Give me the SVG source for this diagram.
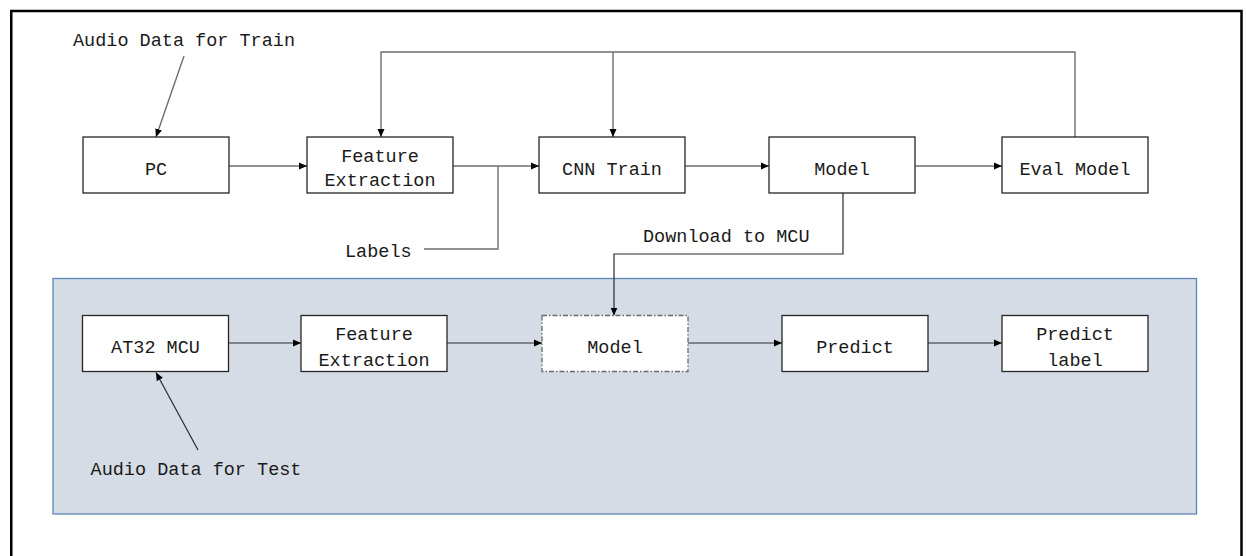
<svg xmlns="http://www.w3.org/2000/svg" width="1246" height="556" viewBox="0 0 1246 556">
<defs>
<marker id="arr" markerUnits="userSpaceOnUse" markerWidth="9" markerHeight="8" refX="8" refY="4" orient="auto">
<path d="M0,0.5 L8,4 L0,7.5 z" fill="#000"/>
</marker>
<style>
.t{font-family:"Liberation Mono","DejaVu Sans Mono",monospace;font-size:18.5px;fill:#1a1a1a}
.c{text-anchor:middle}
.box{fill:#fff;stroke:#262626;stroke-width:1.3}
.dash{fill:#fff;stroke:#6a6a6a;stroke-width:1.3;stroke-dasharray:5 2 1.5 2}
.ln{fill:none;stroke:#6e6e6e;stroke-width:1.4}
.lnd{fill:none;stroke:#2a2a2a;stroke-width:1.2}
.a{marker-end:url(#arr)}
</style>
</defs>
<rect x="0" y="0" width="1246" height="556" fill="#fff"/>
<rect x="11.25" y="11" width="1230.25" height="600" fill="none" stroke="#000" stroke-width="2.5"/>
<rect id="mcu-panel" x="53" y="278.5" width="1143.5" height="235.5" fill="#d6dce5" stroke="#5a86b8" stroke-width="1.3"/>

<g id="connectors">
<line class="ln a" x1="184" y1="56" x2="156" y2="137"/>
<line class="ln a" x1="229" y1="166" x2="307" y2="166"/>
<line class="ln a" x1="453" y1="166" x2="539" y2="166"/>
<polyline class="ln" points="424,249 498,249 498,166"/>
<line class="ln a" x1="685" y1="166" x2="769" y2="166"/>
<line class="ln a" x1="915" y1="166" x2="1002" y2="166"/>
<polyline class="ln a" points="1075,137 1075,52 381,52 381,137"/>
<line class="ln a" x1="613" y1="52" x2="613" y2="137"/>
<polyline class="lnd a" points="843,193 843,254 614,254 614,315.5"/>
<line class="lnd a" x1="228" y1="343" x2="301" y2="343"/>
<line class="lnd a" x1="447" y1="343" x2="542" y2="343"/>
<line class="lnd a" x1="688" y1="343" x2="782" y2="343"/>
<line class="lnd a" x1="928" y1="343" x2="1002" y2="343"/>
<line class="lnd a" x1="198" y1="450" x2="156" y2="372.5"/>
</g>

<g id="lbl-audio-train"><text class="t c" x="184" y="46">Audio Data for Train</text></g>
<g id="lbl-labels"><text class="t" x="345" y="257">Labels</text></g>
<g id="lbl-download"><text class="t" x="643" y="242">Download to MCU</text></g>
<g id="lbl-audio-test"><text class="t c" x="196" y="475">Audio Data for Test</text></g>

<g id="pc"><rect class="box" x="83" y="137" width="146" height="56"/><text class="t c" x="156" y="175">PC</text></g>
<g id="fe-train"><rect class="box" x="307" y="137" width="146" height="56"/><text class="t c" x="380" y="162">Feature</text><text class="t c" x="380" y="186">Extraction</text></g>
<g id="cnn-train"><rect class="box" x="539" y="137" width="146" height="56"/><text class="t c" x="612" y="175">CNN Train</text></g>
<g id="model-train"><rect class="box" x="769" y="137" width="146" height="56"/><text class="t c" x="842" y="175">Model</text></g>
<g id="eval-model"><rect class="box" x="1002" y="137" width="146" height="56"/><text class="t c" x="1075" y="175">Eval Model</text></g>

<g id="at32"><rect class="box" x="82.5" y="315.5" width="146" height="56"/><text class="t c" x="155.5" y="353">AT32 MCU</text></g>
<g id="fe-mcu"><rect class="box" x="301" y="315.5" width="146" height="56"/><text class="t c" x="374" y="340">Feature</text><text class="t c" x="374" y="366">Extraction</text></g>
<g id="model-mcu"><rect class="dash" x="542" y="315.5" width="146" height="56"/><text class="t c" x="615" y="353">Model</text></g>
<g id="predict"><rect class="box" x="782" y="315.5" width="146" height="56"/><text class="t c" x="855" y="353">Predict</text></g>
<g id="predict-label"><rect class="box" x="1002" y="315.5" width="146" height="56"/><text class="t c" x="1075" y="340">Predict</text><text class="t c" x="1075" y="366">label</text></g>
</svg>
